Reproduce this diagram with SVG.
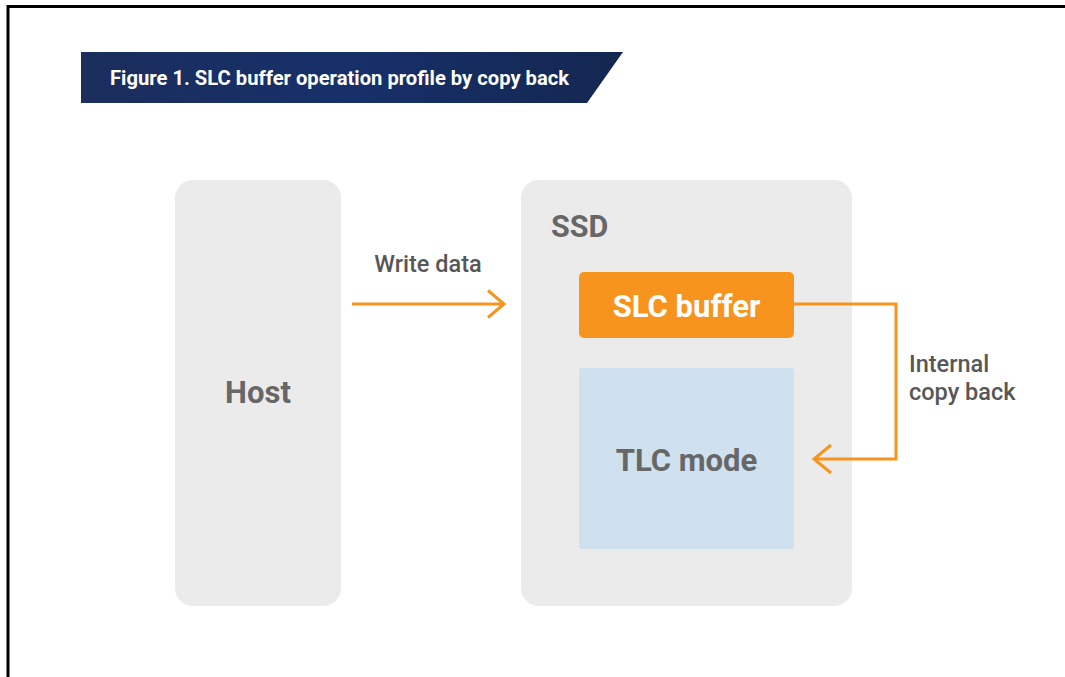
<svg xmlns="http://www.w3.org/2000/svg" width="1065" height="677" viewBox="0 0 1065 677">
<defs>
<linearGradient id="bannerGrad" x1="0" y1="0" x2="1" y2="0">
<stop offset="0" stop-color="#1b2e5c"/>
<stop offset="0.5" stop-color="#17306a"/>
<stop offset="1" stop-color="#13274f"/>
</linearGradient>
<style>
.lbl{font-family:Roboto,"Liberation Sans",sans-serif;font-weight:bold;fill:#676767;}
.small{font-family:Roboto,"Liberation Sans",sans-serif;font-weight:500;fill:#575757;font-size:23.5px;}
.conn{fill:none;stroke:#f7941d;stroke-width:3;stroke-linejoin:miter;}
.box{fill:#ebebeb;}
</style>
</defs>
<rect x="0" y="0" width="1065" height="677" fill="#ffffff"/>
<path d="M8 677 V6.5 H1065" fill="none" stroke="#000" stroke-width="3"/>
<g id="title">
<polygon points="81,52 623,52 587,103 81,103" fill="url(#bannerGrad)"/>
<text x="110" y="85" font-family="Roboto,'Liberation Sans',sans-serif" font-weight="bold" font-size="20.2" fill="#ffffff">Figure 1. SLC buffer operation profile by copy back</text>
</g>
<g id="host">
<rect class="box" x="175" y="180" width="166" height="426" rx="18"/>
<text class="lbl" x="258" y="403" font-size="31" text-anchor="middle">Host</text>
</g>
<g id="ssd">
<rect class="box" x="521" y="180" width="331" height="426" rx="18"/>
<text class="lbl" x="551" y="237" font-size="30.500">SSD</text>
</g>
<g id="slc">
<rect x="579" y="272" width="215" height="66" rx="5" fill="#f7941d"/>
<text x="686.500" y="317" font-family="Roboto,'Liberation Sans',sans-serif" font-weight="bold" font-size="31" fill="#ffffff" text-anchor="middle">SLC buffer</text>
</g>
<g id="tlc">
<rect x="579" y="368" width="215" height="181" rx="3" fill="#cfe0ee"/>
<text class="lbl" x="686.500" y="471" font-size="31" text-anchor="middle">TLC mode</text>
</g>
<g id="connectors">
<path class="conn" d="M352 304 H503"/>
<path class="conn" d="M488 290.500 L504 304 L488 317.500"/>
<text class="small" x="428" y="272" text-anchor="middle">Write data</text>
<path class="conn" d="M794 304 H896 V459 H815"/>
<path class="conn" d="M831 445 L814 459 L831 473"/>
<text class="small" x="909" y="372">Internal</text>
<text class="small" x="909" y="400">copy back</text>
</g>
</svg>
